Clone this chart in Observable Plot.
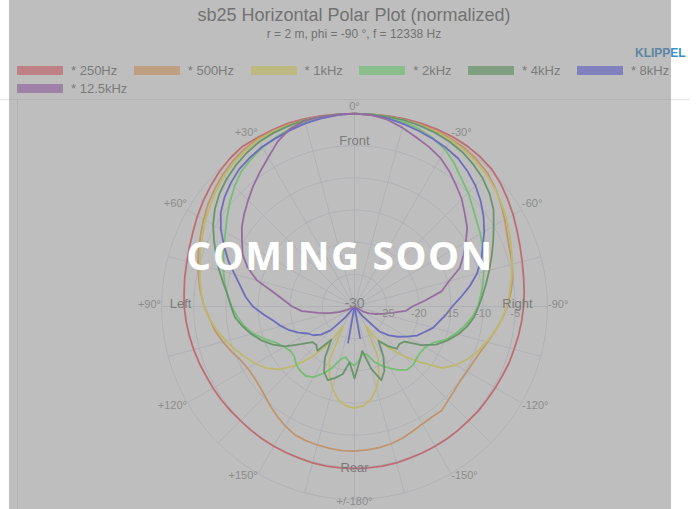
<!DOCTYPE html>
<html><head><meta charset="utf-8">
<script src="https://cdn.jsdelivr.net/npm/d3@7"></script>
<script src="https://cdn.jsdelivr.net/npm/@observablehq/plot@0.6"></script>
<style>
html,body{margin:0;padding:0;background:#fff;width:700px;height:509px;overflow:hidden;font-family:"Liberation Sans",Arial,sans-serif;}
#wrap{position:relative;width:700px;height:509px;}
#head{position:relative;height:98px;}
#title{position:absolute;left:0;width:708px;top:5px;line-height:20px;text-align:center;font-size:18px;color:#666;}
#sub{position:absolute;left:0;width:708px;top:27px;line-height:14px;text-align:center;font-size:12px;color:#666;}
#logo{position:absolute;left:635px;top:46px;line-height:14px;font-size:12px;font-weight:bold;color:#3d8ec9;}
#legend{position:absolute;left:17px;top:61px;width:678px;display:flex;flex-wrap:wrap;}
.item{display:flex;align-items:center;height:18px;margin-right:16.5px;font-size:13px;color:#777;}
.sw{width:46px;height:9px;margin-right:8px;}
#sep{position:absolute;left:0;top:99px;width:690px;height:1px;background:#e6e6e6;}
#vline{position:absolute;left:17px;top:100px;width:1px;height:409px;background:#e4e4e4;}
#chart{position:absolute;left:0;top:98px;}
#overlay{position:absolute;left:9px;top:0;width:662px;height:509px;background:rgba(125,125,125,0.5);display:flex;align-items:center;justify-content:center;z-index:10;}
#soon{font-family:"Open Sans",sans-serif;font-weight:700;font-size:39px;color:#fff;letter-spacing:1.5px;}
</style></head>
<body>
<div id="wrap">
  <div id="head">
    <div id="title">sb25 Horizontal Polar Plot (normalized)</div>
    <div id="sub">r = 2 m, phi = -90 °, f = 12338 Hz</div>
    <div id="logo">KLIPPEL</div>
    <div id="legend"></div>
  </div>
  <div id="sep"></div>
  <div id="vline"></div>
  <div id="chart"></div>
  <div id="overlay"><div id="soon">COMING SOON</div></div>
</div>
<script>
// Angles (degrees, + = left, - = right)
const angles = [-180,-175,-170,-165,-160,-155,-150,-145,-140,-135,-130,-125,-120,-115,-110,-105,-100,-95,-90,-85,-80,-75,-70,-65,-60,-55,-50,-45,-40,-35,-30,-25,-20,-15,-10,-5,
  0,5,10,15,20,25,30,35,40,45,50,55,60,65,70,75,80,85,90,95,100,105,110,115,120,125,130,135,140,145,150,155,160,165,170,175,180];

// Normalized level in dB per angle
const s250 = [-4.8,-4.8,-4.8,-4.8,-4.9,-4.9,-4.9,-4.9,-4.9,-4.9,-4.8,-4.8,-4.7,-4.6,-4.4,-4.3,-4.1,-3.9,-3.7,-3.5,-3.3,-3.0,-2.6,-2.1,-1.5,-0.9,-0.3,0.2,0.4,0.5,0.5,0.4,0.3,0.2,0.1,0,
  0,
  0,0.1,0.2,0.3,0.3,0.3,0.4,0.1,-0.3,-0.8,-1.3,-1.8,-2.3,-2.7,-3.0,-3.2,-3.4,-3.5,-3.7,-3.9,-4.1,-4.3,-4.5,-4.6,-4.7,-4.8,-4.9,-4.9,-4.9,-4.9,-4.9,-4.9,-4.8,-4.8,-4.8,-4.8];
const s500 = [-7.5,-7.6,-7.7,-7.9,-8.2,-8.6,-8.9,-9.0,-8.9,-9.4,-9.7,-9.9,-9.8,-9.6,-9.2,-8.6,-7.8,-7.0,-6.2,-5.6,-5.0,-4.6,-4.3,-3.8,-3.0,-2.2,-1.4,-0.7,-0.3,0,0.1,0.1,0.1,0,0,0,
  0,
  0,0,0,0.1,0.1,0.1,-0.1,-0.5,-1.0,-1.6,-2.2,-2.9,-3.6,-4.2,-4.8,-5.4,-6.0,-6.6,-7.4,-8.0,-8.8,-9.6,-10.4,-10.8,-10.9,-10.7,-10.3,-9.7,-9.1,-8.5,-8.0,-7.8,-7.7,-7.6,-7.5,-7.5];
const s1k = [-14.2,-14.5,-15.3,-16.8,-18.8,-21.5,-26.5,-23.5,-21.5,-19,-16.5,-13.3,-11.8,-10.6,-9.6,-8.7,-7.8,-7.0,-6.3,-5.8,-5.2,-4.6,-4.0,-3.4,-2.7,-2.1,-1.5,-1.0,-0.6,-0.3,-0.1,0,0,0,0,0,
  0,
  0,0,0,0,0,-0.1,-0.4,-0.8,-1.3,-1.9,-2.6,-3.2,-3.9,-4.5,-5.1,-5.6,-6.1,-6.6,-7.4,-8.3,-9.3,-10.3,-11.3,-12.2,-13.3,-14.8,-17,-19.8,-22.8,-26.5,-20.8,-18.6,-16.8,-15.3,-14.5,-14.2];
const s2k = [-20.8,-21.6,-22.6,-22.2,-20.8,-19.8,-18.9,-17.9,-17.2,-17.1,-17.4,-17.5,-17.3,-16.6,-14.9,-13.7,-12.6,-11.6,-10.8,-10.3,-9.7,-9.2,-8.6,-8.0,-7.4,-6.8,-6.0,-5.0,-4.1,-2.9,-1.8,-1.1,-0.6,-0.3,-0.1,0,
  0,
  0,-0.1,-0.3,-0.6,-1.0,-1.4,-2.0,-2.6,-3.6,-4.7,-5.8,-6.8,-7.6,-8.3,-8.9,-9.5,-10.2,-10.9,-11.7,-12.6,-13.7,-15.2,-16.6,-17.4,-17.9,-17.8,-17.2,-16.9,-16.8,-17.3,-18.5,-19.8,-21.5,-22,-21.3,-20.8];
const s4k = [-18.8,-21.3,-23.0,-20.0,-17.8,-19.0,-21.0,-23.5,-22.0,-20.7,-20.9,-20.5,-18.0,-16.0,-14.6,-13.3,-12.2,-11.3,-10.7,-10.0,-9.2,-8.3,-7.3,-6.2,-5.0,-3.6,-2.6,-1.8,-1.2,-0.7,-0.4,-0.2,-0.1,0,0,0,
  0,
  0,0,0,-0.1,-0.2,-0.4,-0.8,-1.3,-1.9,-2.6,-3.5,-4.6,-5.9,-7.1,-8.2,-9.3,-10.2,-10.8,-11.3,-12.3,-13.4,-14.6,-16.0,-17.6,-19.8,-21.4,-21.6,-21.0,-23.7,-20.8,-18.8,-17.8,-18.5,-19.3,-21.3,-18.8];
const s8k = [-30,-30,-25.0,-30,-30,-30,-30,-30,-28.0,-24.5,-23.0,-21.8,-20.6,-19.3,-18.4,-17.3,-16.6,-15.7,-14.8,-13.4,-11.8,-10.3,-9.0,-8.0,-6.7,-5.5,-4.4,-3.4,-2.6,-1.9,-1.5,-1.2,-0.9,-0.6,-0.3,-0.1,
  0,
  -0.1,-0.3,-0.5,-0.8,-1.1,-1.3,-1.7,-2.1,-2.8,-3.6,-4.6,-6.0,-7.6,-9.1,-10.7,-12.0,-13.0,-14.2,-15.8,-17.2,-18.2,-19.2,-20.4,-21.6,-22.2,-23.2,-24.8,-27.8,-30,-30,-30,-30,-30,-24.3,-30,-30];
const s12k5 = [-30,-30,-30,-30,-30,-30,-30,-30,-30,-30,-30,-30,-28.3,-27.5,-26.6,-25.6,-24.2,-22.0,-21.0,-18.9,-16.2,-14.8,-12.6,-11.3,-10.0,-8.6,-7.6,-6.4,-5.4,-4.3,-3.3,-2.6,-2.0,-1.2,-0.5,-0.1,
  0,
  0,0,-0.1,-0.6,-1.7,-3.2,-4.4,-5.5,-6.6,-7.6,-8.6,-9.8,-10.8,-12.3,-14.3,-17.2,-19.0,-20.3,-21.8,-24.3,-26.0,-27.4,-28.8,-30,-30,-30,-30,-30,-30,-30,-30,-30,-30,-30,-30,-30];

const seriesNames = ["* 250Hz","* 500Hz","* 1kHz","* 2kHz","* 4kHz","* 8kHz","* 12.5kHz"];
const seriesValues = [s250, s500, s1k, s2k, s4k, s8k, s12k5];
const seriesColors = ["#ff5c66","#ffac5c","#fff25c","#70fc70","#5aaa5a","#5c5cfc","#ac5cc0"];

const dbTicks = [-30,-25,-20,-15,-10,-5];
const ringDb = [-25,-20,-15,-10,-5,0];
const spokeAngles = [0,15,30,45,60,75,90,105,120,135,150,165,180,-165,-150,-135,-120,-105,-90,-75,-60,-45,-30,-15];
const angleTicks = [0,30,60,90,120,150,180,-150,-120,-90,-60,-30];
const angleTickText = ["0°","+30°","+60°","+90°","+120°","+150°","+/-180°","-150°","-120°","-90°","-60°","-30°"];
const annoText = ["Front","Rear","Left","Right"];
const annoAngle = [0,180,90,-90];
const annoRadius = [25.35,25.5,27.06,25.35];

// legend
const leg = document.getElementById("legend");
seriesNames.forEach((n,i)=>{
  const it = document.createElement("div"); it.className="item";
  const sw = document.createElement("div"); sw.className="sw"; sw.style.background = seriesColors[i]; sw.style.opacity = 0.75;
  const tx = document.createElement("span"); tx.textContent = n;
  it.appendChild(sw); it.appendChild(tx); leg.appendChild(it);
});

const FLOOR = -30;
const rad = db => Math.max(db, FLOOR) - FLOOR;   // radial distance in dB units from the center
const lat = r => 90 - r;
const rows = seriesNames.flatMap((n,k)=>angles.map((a,i)=>({name:n, angle:a, db:seriesValues[k][i]})));
const gridColor = "#e2e4ee";
const R_LABEL = 30.1;

const anchorOf = a => {
  const h = (a===0||Math.abs(a)===180) ? "middle" : (a>0 ? "end" : "start");
  const v = Math.abs(a)===90 ? "middle" : (Math.abs(a)<90 ? "bottom" : "top");
  return h + "," + v;
};
const groups = d3.groups(d3.range(angleTicks.length), i => anchorOf(angleTicks[i]));
const angleLabelMarks = groups.map(([key, idx]) => {
  const [ta, la] = key.split(",");
  return Plot.text(idx, {x: i => angleTicks[i], y: () => lat(R_LABEL), text: i => angleTickText[i],
    textAnchor: ta, lineAnchor: la, dy: -2.5, fontSize: 11, fill: "#999"});
});

const plot = Plot.plot({
  width: 700, height: 411,
  marginTop: 5.5, marginBottom: 0.5, marginLeft: 151.5, marginRight: 143.5,
  projection: {type: "azimuthal-equidistant", rotate: [180, -90],
    domain: d3.geoCircle().center([0, 90]).radius(31.5)()},
  color: {domain: seriesNames, range: seriesColors},
  style: {fontFamily: "'Liberation Sans', Arial, sans-serif", background: "transparent", overflow: "visible"},
  marks: [
    Plot.geo(ringDb, {geometry: v => d3.geoCircle().center([0, 90]).radius(rad(v))(), stroke: gridColor, strokeWidth: 1, fill: "none"}),
    Plot.link(spokeAngles, {x1: a => a, y1: () => 90, x2: a => a, y2: () => lat(rad(0)), stroke: gridColor, strokeWidth: 1}),
    Plot.line(rows, {x: "angle", y: d => lat(rad(d.db)), z: "name", stroke: "name", strokeWidth: 1.8}),
    ...angleLabelMarks,
    Plot.text(dbTicks.filter(v => v > FLOOR), {x: () => -90, y: v => lat(rad(v)), text: v => String(v), dy: 7, fontSize: 11, fill: "#999"}),
    Plot.text(dbTicks.filter(v => v === FLOOR), {x: () => -90, y: () => 90, text: v => String(v), dy: -3, fontSize: 14, fill: "#888"}),
    Plot.text(annoText, {x: (d,i) => annoAngle[i], y: (d,i) => lat(annoRadius[i]), text: d => d, dy: -3, fontSize: 13, fill: "#777"})
  ]
});
document.getElementById("chart").appendChild(plot);
</script>
</body></html>
